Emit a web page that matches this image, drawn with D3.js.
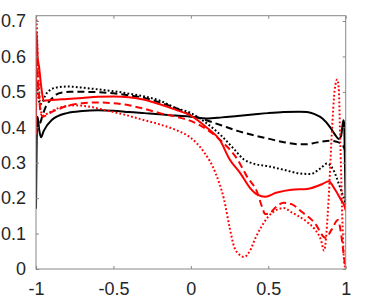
<!DOCTYPE html>
<html lang="en">
<head>
  <meta charset="utf-8">
  <style>
    body { margin: 0; background: #fff; }
    .tick text { font-family: 'Liberation Sans', Arial, sans-serif; font-size: 18px; fill: #262626; }
    .tick line { stroke: #888; }
  </style>
</head>
<body>
  <div id="chart"></div>
  <script src="https://d3js.org/d3.v7.min.js"></script>
  <script>
    // tick labels
    var xTicks = [-1, -0.5, 0, 0.5, 1];
    var yTicks = [0, 0.1, 0.2, 0.3, 0.4, 0.5, 0.6, 0.7];

    // black solid
    var bsX = [-1, -0.995, -0.99, -0.98, -0.968, -0.95, -0.9, -0.8, -0.7, -0.6, -0.5, -0.4, -0.3, -0.2, -0.1, 0, 0.1, 0.2, 0.3, 0.4, 0.5, 0.6, 0.7, 0.75, 0.8, 0.85, 0.9, 0.93, 0.955, 0.97, 0.985, 0.99, 0.995, 1];
    var bsY = [0.17, 0.39, 0.43, 0.395, 0.372, 0.39, 0.42, 0.44, 0.446, 0.448, 0.447, 0.443, 0.44, 0.437, 0.433, 0.43, 0.425, 0.428, 0.432, 0.436, 0.44, 0.443, 0.444, 0.443, 0.437, 0.425, 0.40, 0.38, 0.367, 0.375, 0.42, 0.41, 0.3, 0.18];

    // black dashed
    var bdX = [-1, -0.995, -0.985, -0.975, -0.96, -0.94, -0.92, -0.9, -0.87, -0.83, -0.78, -0.7, -0.6, -0.5, -0.4, -0.3, -0.2, -0.1, 0, 0.1, 0.2, 0.3, 0.4, 0.5, 0.6, 0.7, 0.75, 0.8, 0.85, 0.9, 0.95, 0.98, 1];
    var bdY = [0.34, 0.43, 0.405, 0.41, 0.43, 0.455, 0.47, 0.48, 0.492, 0.498, 0.5, 0.5, 0.499, 0.496, 0.49, 0.483, 0.47, 0.455, 0.435, 0.42, 0.405, 0.39, 0.378, 0.368, 0.358, 0.352, 0.352, 0.356, 0.36, 0.362, 0.358, 0.35, 0.33];

    // black dotted
    var btX = [-1, -0.995, -0.985, -0.975, -0.96, -0.94, -0.91, -0.87, -0.8, -0.7, -0.6, -0.5, -0.4, -0.3, -0.2, -0.1, 0, 0.1, 0.2, 0.28, 0.34, 0.4, 0.5, 0.6, 0.7, 0.77, 0.84, 0.88, 0.92, 0.96, 0.98, 1];
    var btY = [0.45, 0.53, 0.49, 0.465, 0.47, 0.49, 0.505, 0.512, 0.515, 0.512, 0.507, 0.502, 0.495, 0.487, 0.475, 0.455, 0.44, 0.412, 0.375, 0.338, 0.31, 0.298, 0.29, 0.28, 0.27, 0.268, 0.285, 0.298, 0.28, 0.235, 0.21, 0.185];

    // red solid
    var rsX = [-1, -0.996, -0.99, -0.98, -0.965, -0.95, -0.9, -0.8, -0.7, -0.6, -0.5, -0.4, -0.3, -0.2, -0.1, 0, 0.1, 0.19, 0.25, 0.32, 0.38, 0.43, 0.48, 0.55, 0.65, 0.75, 0.85, 0.89, 0.93, 0.97, 0.99, 1];
    var rsY = [0.38, 0.67, 0.6, 0.57, 0.51, 0.475, 0.477, 0.48, 0.483, 0.486, 0.487, 0.485, 0.478, 0.465, 0.45, 0.433, 0.4, 0.362, 0.31, 0.27, 0.23, 0.21, 0.204, 0.215, 0.224, 0.226, 0.24, 0.248, 0.225, 0.195, 0.18, 0.165];

    // red dashed
    var rdX = [-1, -0.995, -0.99, -0.98, -0.97, -0.955, -0.93, -0.9, -0.85, -0.8, -0.7, -0.6, -0.5, -0.4, -0.3, -0.2, -0.1, 0, 0.1, 0.2, 0.3, 0.364, 0.43, 0.46, 0.48, 0.51, 0.55, 0.6, 0.65, 0.72, 0.8, 0.87, 0.91, 0.95, 0.97, 0.99, 1];
    var rdY = [0.45, 0.63, 0.56, 0.49, 0.44, 0.43, 0.435, 0.443, 0.452, 0.46, 0.468, 0.47, 0.468, 0.462, 0.452, 0.44, 0.43, 0.418, 0.395, 0.36, 0.31, 0.26, 0.215, 0.175, 0.155, 0.158, 0.175, 0.187, 0.183, 0.16, 0.13, 0.088, 0.112, 0.138, 0.1, 0.03, 0];

    // red dotted
    var rtX = [-1, -0.995, -0.99, -0.98, -0.97, -0.955, -0.93, -0.85, -0.75, -0.65, -0.55, -0.45, -0.3, -0.2, -0.1, 0, 0.085, 0.16, 0.215, 0.25, 0.28, 0.31, 0.345, 0.38, 0.42, 0.45, 0.5, 0.55, 0.6, 0.65, 0.75, 0.8, 0.84, 0.86, 0.89, 0.91, 0.93, 0.945, 0.955, 0.965, 0.98, 0.99, 1];
    var rtY = [0.715, 0.69, 0.61, 0.51, 0.45, 0.433, 0.438, 0.455, 0.462, 0.458, 0.448, 0.438, 0.42, 0.408, 0.393, 0.37, 0.33, 0.27, 0.195, 0.118, 0.062, 0.042, 0.034, 0.05, 0.09, 0.115, 0.148, 0.166, 0.172, 0.16, 0.133, 0.112, 0.082, 0.052, 0.2, 0.38, 0.51, 0.535, 0.51, 0.36, 0.12, 0.02, 0];

    var series = [
      { xs: bsX, ys: bsY, color: "#000", dash: null },
      { xs: bdX, ys: bdY, color: "#000", dash: "7,4" },
      { xs: btX, ys: btY, color: "#000", dash: "1.8,2.2" },
      { xs: rsX, ys: rsY, color: "#f00", dash: null },
      { xs: rdX, ys: rdY, color: "#f00", dash: "7,4" },
      { xs: rtX, ys: rtY, color: "#f00", dash: "1.8,2.2" }
    ];

    var W = 372, H = 300;
    var mLeft = 36, mRight = 345.7, mTop = 15.7, mBottom = 269;

    var svg = d3.select("#chart").append("svg")
      .attr("width", W)
      .attr("height", H);

    var x = d3.scaleLinear().domain([-1, 1]).range([mLeft, mRight]);
    var y = d3.scaleLinear().domain([0, 0.715]).range([mBottom, mTop]);

    svg.append("clipPath").attr("id", "clip")
      .append("rect")
      .attr("x", mLeft).attr("y", mTop)
      .attr("width", mRight - mLeft).attr("height", mBottom - mTop);

    var line = d3.line()
      .x(function (d) { return x(d[0]); })
      .y(function (d) { return y(d[1]); })
      .curve(d3.curveMonotoneX);

    var plot = svg.append("g").attr("clip-path", "url(#clip)");

    series.forEach(function (s) {
      var pts = s.xs.map(function (v, i) { return [v, s.ys[i]]; });
      plot.append("path")
        .datum(pts)
        .attr("d", line)
        .attr("fill", "none")
        .attr("stroke", s.color)
        .attr("stroke-width", 2)
        .attr("stroke-dasharray", s.dash);
    });

    // box
    svg.append("rect")
      .attr("x", mLeft).attr("y", mTop)
      .attr("width", mRight - mLeft).attr("height", mBottom - mTop)
      .attr("fill", "none")
      .attr("stroke", "#888")
      .attr("stroke-width", 1);

    var fmt = function (d) { return String(d); };

    // axes with inward ticks
    svg.append("g")
      .attr("transform", "translate(0," + mBottom + ")")
      .call(d3.axisBottom(x).tickValues(xTicks).tickSize(-3).tickSizeOuter(0).tickPadding(13).tickFormat(fmt));
    svg.append("g")
      .attr("transform", "translate(0," + mTop + ")")
      .call(d3.axisTop(x).tickValues(xTicks).tickSize(-3).tickSizeOuter(0).tickFormat(""));
    svg.append("g")
      .attr("transform", "translate(" + mLeft + ",0)")
      .call(d3.axisLeft(y).tickValues(yTicks).tickSize(-3).tickSizeOuter(0).tickPadding(10).tickFormat(fmt));
    svg.append("g")
      .attr("transform", "translate(" + mRight + ",0)")
      .call(d3.axisRight(y).tickValues(yTicks).tickSize(-3).tickSizeOuter(0).tickFormat(""));

    svg.selectAll(".domain").remove();
  </script>
</body>
</html>
